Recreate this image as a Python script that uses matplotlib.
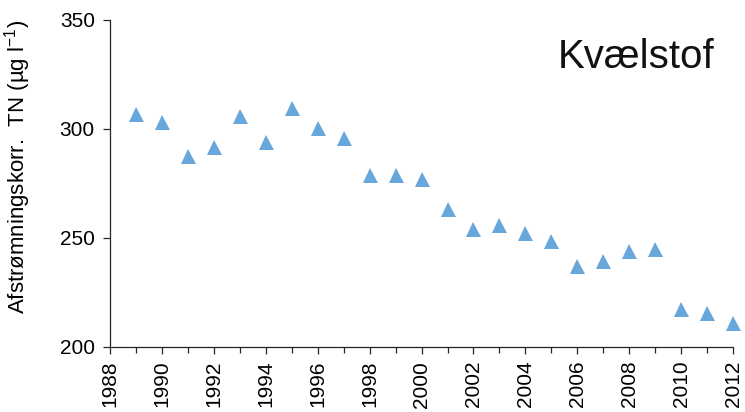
"""Kvælstof: runoff-corrected total nitrogen, 1989-2012."""

import matplotlib
matplotlib.use("Agg")
import matplotlib.pyplot as plt
from matplotlib.ticker import MultipleLocator

# ── Data ──────────────────────────────────────────────────────────────────────
YEARS = list(range(1989, 2013))
TN = [
    306.7, 303.0, 287.7, 291.5, 306.1, 294.2, 309.7, 300.3,
    296.0, 278.8, 278.8, 277.2, 263.1, 254.0, 255.7, 252.4,
    248.8, 237.1, 239.2, 243.8, 245.1, 217.5, 215.7, 211.0,
]
X_TICKS = list(range(1988, 2013, 2))
Y_TICKS = [200, 250, 300, 350]

TITLE  = "Kvælstof"
YLABEL = "Afstrømningskorr.  TN (µg l$^{-1}$)"

COLOR = "#67a7db"

plt.rcParams.update({
    "font.family": ["Liberation Sans", "DejaVu Sans"],
    "mathtext.fontset": "custom",
    "mathtext.rm": "Liberation Sans",
    "mathtext.it": "Liberation Sans",
})

fig = plt.figure(figsize=(7.45, 4.12), dpi=100)
ax = fig.add_axes([0.1477, 0.158, 0.8363, 0.7937])

ax.plot(YEARS, TN, linestyle="none", marker="^", markersize=10.8,
        markeredgewidth=0, color=COLOR, clip_on=False)

ax.set_xlim(1988, 2012)
ax.set_ylim(200, 350)
ax.set_xticks(X_TICKS)
ax.xaxis.set_minor_locator(MultipleLocator(1))
ax.set_yticks(Y_TICKS)

for side in ("top", "right"):
    ax.spines[side].set_visible(False)
for side in ("left", "bottom"):
    ax.spines[side].set_linewidth(0.9)
    ax.spines[side].set_color("#262626")

ax.tick_params(axis="both", which="major", direction="out", length=5,
               width=0.9, color="#262626", labelsize=15)
ax.tick_params(axis="x", which="minor", direction="out", length=4,
               width=0.9, color="#262626")
ax.tick_params(axis="x", which="major", pad=5, labelrotation=90)
ax.tick_params(axis="y", which="major", pad=6)

ax.set_ylabel(YLABEL, fontsize=16)
ax.yaxis.set_label_coords(-0.123, 0.55)
ax.text(0.97, 0.853, TITLE, transform=ax.transAxes, ha="right",
        va="baseline", fontsize=29, color="#111111")

fig.savefig("out.png", dpi=100)
